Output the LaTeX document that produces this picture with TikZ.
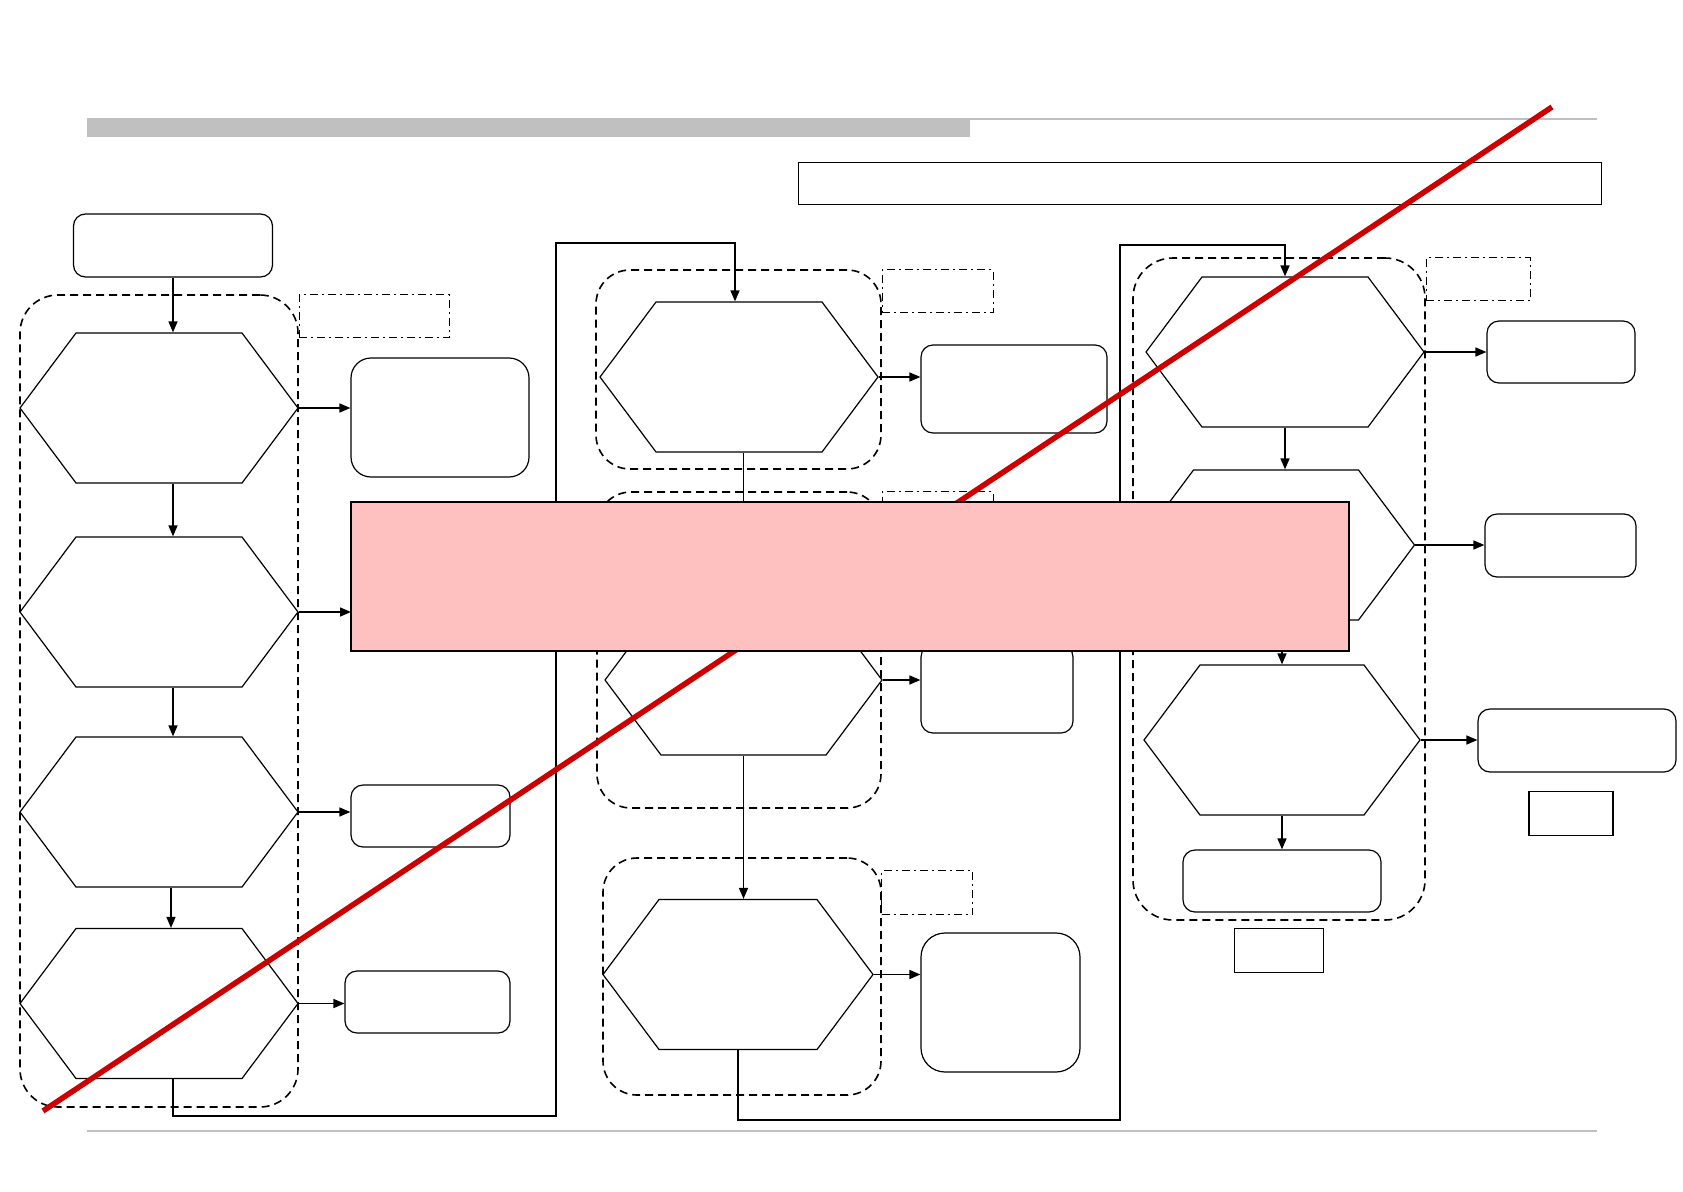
\documentclass[tikz,border=0pt]{standalone}
\usepackage{xcolor}
\usepackage{tikz}
\usetikzlibrary{shapes.symbols, arrows.meta, positioning}

\definecolor{bargray}{RGB}{192,192,192}
\definecolor{maskpink}{RGB}{255,192,192}
\definecolor{crossred}{RGB}{204,0,0}

\begin{document}
\begin{tikzpicture}[
    x=1pt, y=-1pt,
    hexa/.style={signal, signal to=east and west, signal pointer angle=106.5, draw, line width=1.2pt, minimum width=278pt, minimum height=150pt, inner sep=0pt},
    panel/.style={rectangle, draw, rounded corners=12pt, line width=1.2pt, inner sep=0pt},
    grpbox/.style={rectangle, draw, rounded corners=38pt, line width=1.6pt, dash pattern=on 8pt off 5pt, inner sep=0pt},
    tagbox/.style={rectangle, draw, line width=1pt, dash pattern=on 8pt off 4pt on 2pt off 4pt, inner sep=0pt, anchor=north west},
    notebox/.style={rectangle, draw, line width=1.6pt, inner sep=0pt},
    arr/.style={-{Triangle[length=11pt, width=9pt]}, line width=1.5pt},
    link/.style={line width=1.6pt}
]
    \useasboundingbox (0,0) rectangle (1683,1191);

    % page header and footer
    \fill[bargray] (87,118) rectangle (970,137);
    \draw[bargray, line width=2pt] (970,119) -- (1597,119);
    \draw[bargray, line width=1.5pt] (87,1131) -- (1597,1131);
    \node[rectangle, draw, line width=0.9pt, minimum width=803pt, minimum height=42pt] (title) at (1199.5,183) {};

    % first column
    \node[panel, minimum width=199pt, minimum height=63pt] (start) at (173,245.5) {};
    \node[grpbox, minimum width=278pt, minimum height=812pt] (grpA) at (159,701) {};
    \node[tagbox, minimum width=150pt, minimum height=43pt] (tagA) at (grpA.north east) {};
    \node[hexa] (h1) at (159,408) {};
    \node[hexa] (h2) at (159,612) {};
    \node[hexa] (h3) at (159,812) {};
    \node[hexa] (h4) at (159,1003.5) {};
    \node[panel, rounded corners=20pt, minimum width=178pt, minimum height=119pt] (outA1) at (440,417.5) {};
    \coordinate (outA2) at (351,612);
    \node[panel, minimum width=159pt, minimum height=62pt] (outA3) at (430.5,816) {};
    \node[panel, minimum width=165pt, minimum height=62pt] (outA4) at (427.5,1002) {};

    \draw[arr] (start) -- (start |- h1.north);
    \draw[arr] (h1.south -| start) -- (h2.north -| start);
    \draw[arr] (h2.south -| start) -- (h3.north -| start);
    \draw[arr] (h3.south -| 171,0) -- (h4.north -| 171,0);
    \draw[arr] (h1.east) -- (h1.east -| outA1.west);
    \draw[arr] (h2.east) -- (outA2);
    \draw[arr] (h3.east) -- (h3.east -| outA3.west);
    \draw[arr] (h4.east) -- (h4.east -| outA4.west);

    % second column
    \node[grpbox, rounded corners=34pt, minimum width=285pt, minimum height=199pt] (grpB1) at (738.5,369.5) {};
    \node[tagbox, minimum width=111pt, minimum height=43pt] (tagB1) at (grpB1.north east) {};
    \node[grpbox, rounded corners=34pt, minimum width=284pt, minimum height=316pt] (grpB2) at (739,650) {};
    \node[tagbox, minimum width=111pt, minimum height=43pt] (tagB2) at (grpB2.north east) {};
    \node[grpbox, rounded corners=34pt, minimum width=278pt, minimum height=237pt] (grpB3) at (742,976.5) {};
    \node[tagbox, minimum width=91pt, minimum height=44pt] (tagB3) at (881,870) {};
    \node[hexa] (h5) at (739,377) {};
    \node[hexa, minimum width=277pt] (h6) at (743.5,680) {};
    \node[hexa, minimum width=270pt] (h7) at (738,974.5) {};
    \node[panel, minimum width=186pt, minimum height=88pt] (outB1) at (1014,389) {};
    \node[panel, minimum width=152pt, minimum height=88pt] (outB2) at (997,689) {};
    \node[panel, rounded corners=24pt, minimum width=159pt, minimum height=139pt] (outB3) at (1000.5,1002.5) {};

    \draw[arr] (h5.south -| h6) -- (h6.north);
    \draw[arr] (h6.south) -- (h6.south |- h7.north);
    \draw[arr] (h5.east) -- (h5.east -| outB1.west);
    \draw[arr] (h6.east) -- (h6.east -| outB2.west);
    \draw[arr] (h7.east) -- (h7.east -| outB3.west);

    % third column
    \node[grpbox, rounded corners=40pt, minimum width=292pt, minimum height=662pt] (grpC) at (1279,589) {};
    \node[tagbox, minimum width=104pt, minimum height=43pt] (tagC) at (grpC.north east) {};
    \node[notebox, minimum width=89pt, minimum height=44pt, below=7pt of grpC] (noteC) {};
    \node[hexa] (h8) at (1285,352) {};
    \node[hexa, minimum width=277pt] (h9) at (1276,545) {};
    \node[hexa, minimum width=276pt] (h10) at (1282,740) {};
    \node[panel, minimum width=148pt, minimum height=62pt] (outC1) at (1561,352) {};
    \node[panel, minimum width=151pt, minimum height=63pt] (outC2) at (1560.5,545.5) {};
    \node[panel, minimum width=198pt, minimum height=63pt] (outC3) at (1577,740.5) {};
    \node[notebox, minimum width=84pt, minimum height=44pt, below=18pt of outC3, xshift=-6pt] (noteC3) {};
    \node[panel, minimum width=198pt, minimum height=62pt] (endC) at (1282,881) {};

    \draw[arr] (h8.south) -- (h8.south |- h9.north);
    \draw[arr] (h9.south -| h10) -- (h10.north);
    \draw[arr] (h10.south) -- (endC.north);
    \draw[arr] (h8.east) -- (h8.east -| outC1.west);
    \draw[arr] (h9.east) -- (h9.east -| outC2.west);
    \draw[arr] (h10.east) -- (h10.east -| outC3.west);

    % loops between columns
    \coordinate (railA) at (556,1116);
    \coordinate (railAtop) at (556,243);
    \coordinate (railB) at (1120,1120);
    \coordinate (railBtop) at (1120,245);
    \draw[arr, link] (h4.south -| start) |- (railA) -- (railAtop) -| (h5.north -| 735,0);
    \draw[arr, link] (h7.south) |- (railB) -- (railBtop) -| (h8.north);

    % overlay
    \draw[crossred, line width=5.5pt] (43,1111) -- (1552,107);
    \node[rectangle, draw, fill=maskpink, line width=1.6pt, minimum width=998pt, minimum height=149pt, inner sep=0pt] (mask) at (850,576.5) {};
\end{tikzpicture}
\end{document}
